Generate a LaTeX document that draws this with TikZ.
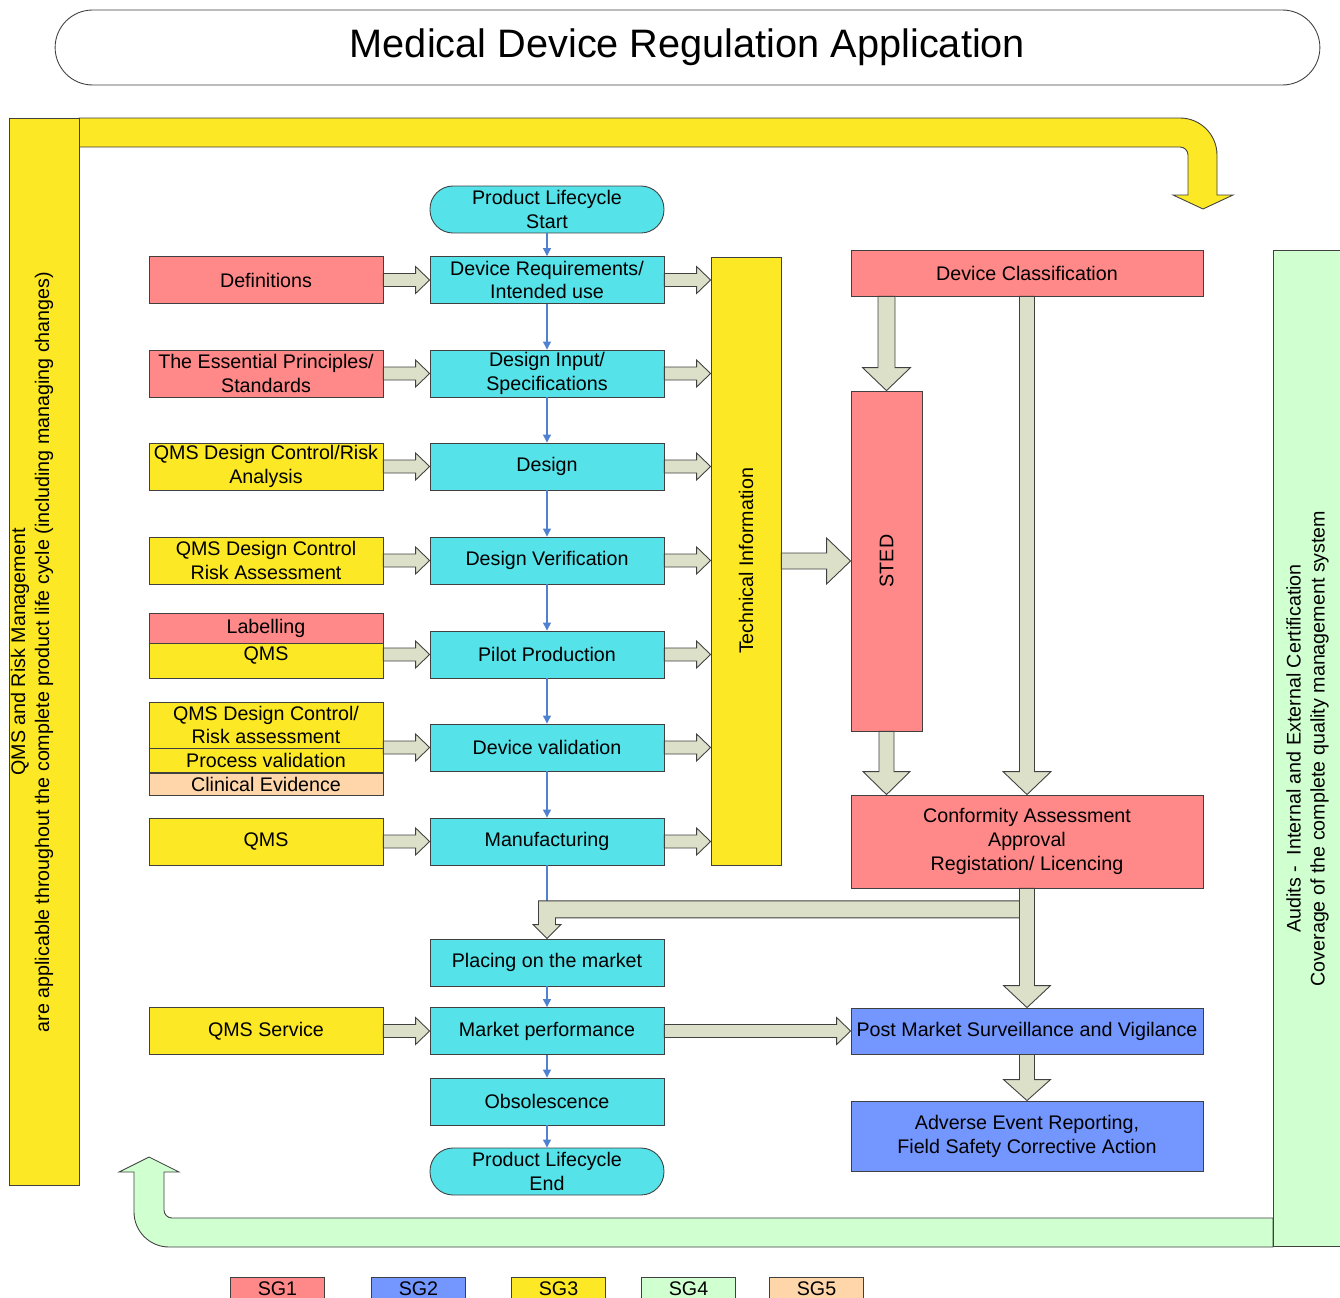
\documentclass[tikz,border=0pt]{standalone}
\usepackage{fontspec}
\setmainfont{Liberation Sans}
\usetikzlibrary{arrows.meta,positioning,calc}
\definecolor{sgred}{RGB}{255,136,136}
\definecolor{sgblue}{RGB}{115,150,255}
\definecolor{sgyellow}{RGB}{252,232,36}
\definecolor{sggreen}{RGB}{208,255,208}
\definecolor{sgpeach}{RGB}{255,213,170}
\definecolor{stepcyan}{RGB}{85,226,233}
\definecolor{blkgrey}{RGB}{220,224,201}
\definecolor{flowblue}{RGB}{79,129,208}
\newcommand{\boxfont}{\fontsize{11.2}{13.6}\selectfont}
% block arrows: start, tip, shaft half width, head half width, head length
\newcommand{\rblk}[5]{\draw[blk] ($(#1)+(0,-#3)$) -- ($(#2)+(-#5,-#3)$) -- ($(#2)+(-#5,-#4)$) -- (#2) -- ($(#2)+(-#5,#4)$) -- ($(#2)+(-#5,#3)$) -- ($(#1)+(0,#3)$) -- cycle;}
\newcommand{\dblk}[5]{\draw[blk] ($(#1)+(-#3,0)$) -- ($(#2)+(-#3,-#5)$) -- ($(#2)+(-#4,-#5)$) -- (#2) -- ($(#2)+(#4,-#5)$) -- ($(#2)+(#3,-#5)$) -- ($(#1)+(#3,0)$) -- cycle;}

\begin{document}
\begin{tikzpicture}[x=0.02cm, y=-0.02cm,
  plainbox/.style={draw=black!75, line width=0.5pt, inner sep=1pt, align=center, font=\boxfont, minimum width=4.68cm, minimum height=0.94cm},
  stepbox/.style={plainbox, fill=stepcyan},
  redbox/.style={plainbox, fill=sgred},
  yelbox/.style={plainbox, fill=sgyellow},
  bluebox/.style={plainbox, fill=sgblue, minimum width=7.04cm},
  pill/.style={stepbox, rounded corners=0.46cm},
  legend/.style={plainbox, minimum width=1.88cm, minimum height=0.48cm},
  flow/.style={draw=flowblue, line width=0.6pt, -{Triangle[width=4.5pt,length=4.5pt]}},
  blk/.style={draw=black!75, line width=0.5pt, fill=blkgrey}]
  \useasboundingbox (0,0) rectangle (1340,1298);
  \clip (0,0) rectangle (1340,1298);

  \node[plainbox, minimum width=25.3cm, minimum height=1.5cm, rounded corners=0.75cm, font=\fontsize{22.6}{26}\selectfont] (title) at (687.5,47.5) {Medical Device Regulation Application};

  % loop arrows round the lifecycle
  \draw[blk, fill=sgyellow] (79,118) -- (1180,118) .. controls (1200.4,118) and (1217,134.6) .. (1217,155) -- (1217,195) -- (1233,195) -- (1203,209) -- (1173,195) -- (1188,195) -- (1188,155) .. controls (1188,150.6) and (1184.4,147) .. (1180,147) -- (79,147) -- cycle;
  \draw[blk, fill=sggreen] (1273,1218) -- (172,1218) .. controls (167.6,1218) and (164,1214.4) .. (164,1210) -- (164,1172) -- (179,1172) -- (149,1157) -- (119,1172) -- (134,1172) -- (134,1212) .. controls (134,1231.3) and (149.7,1247) .. (169,1247) -- (1273,1247) -- cycle;
  \node[yelbox, minimum width=1.4cm, minimum height=21.36cm] (lbar) at (44,652) {};
  \node[rotate=90, font=\boxfont, align=center] (lbartxt) at (32,652) {QMS and Risk Management\\are applicable throughout the complete product life cycle (including managing changes)};
  \node[plainbox, fill=sggreen, rotate=90, minimum width=19.94cm, minimum height=1.38cm] (rbar) at (1307.5,748.5) {Audits -\ \ Internal and External Certification\\Coverage of the complete quality management system};

  % lifecycle
  \node[pill] (start) at (547,209.5) {Product Lifecycle\\Start};
  \node[stepbox] (devreq) at (547,280) {Device Requirements/\\Intended use};
  \node[stepbox] (din) at (547,373.5) {Design Input/\\Specifications};
  \node[stepbox] (design) at (547,466.5) {Design};
  \node[stepbox] (dver) at (547,560.5) {Design Verification};
  \node[stepbox] (pilot) at (547,654.5) {Pilot Production};
  \node[stepbox] (dval) at (547,747.5) {Device validation};
  \node[stepbox] (manuf) at (547,841.5) {Manufacturing};
  \node[stepbox] (placing) at (547,962.5) {Placing on the market};
  \node[stepbox] (market) at (547,1031) {Market performance};
  \node[stepbox] (obs) at (547,1101.5) {Obsolescence};
  \node[pill] (lcend) at (547,1171.5) {Product Lifecycle\\End};

  % inputs
  \node[redbox] (defs) at (266,280) {Definitions};
  \node[redbox] (essp) at (266,373.5) {The Essential Principles/\\Standards};
  \node[yelbox] (qmsrisk) at (266,466.5) {QMS Design Control/Risk\\Analysis};
  \node[yelbox] (qmsassess) at (266,560.5) {QMS Design Control\\Risk Assessment};
  \node[redbox, minimum height=0.6cm] (lab) at (266,628) {Labelling};
  \node[yelbox, below=0pt of lab, minimum height=0pt, inner ysep=0pt, text height=0.34cm, text depth=0.36cm] (labqms) {QMS};
  \node[yelbox, minimum height=0.92cm, inner ysep=0pt] (qmsdc) at (266,725) {QMS Design Control/\\Risk assessment};
  \node[yelbox, below=0pt of qmsdc, minimum height=0.48cm, inner ysep=0pt] (procval) {Process validation};
  \node[plainbox, fill=sgpeach, below=0pt of procval, minimum height=0.44cm, inner ysep=0pt] (clin) {Clinical Evidence};
  \node[yelbox] (qms) at (266,841.5) {QMS};
  \node[yelbox] (qmsserv) at (266,1031) {QMS Service};

  % regulatory side (rotated nodes: north = left, south = right, east = top, west = bottom)
  \node[yelbox, rotate=90, minimum width=12.16cm, minimum height=1.4cm] (tech) at (746,561) {Technical Information};
  \node[redbox, minimum width=7.04cm, minimum height=0.92cm] (devclass) at (1027,273) {Device Classification};
  \node[redbox, rotate=90, minimum width=6.8cm, minimum height=1.42cm] (sted) at (886.5,561) {STED};
  \node[redbox, minimum width=7.04cm, minimum height=1.86cm] (conf) at (1027,841.5) {Conformity Assessment\\Approval\\Registation/ Licencing};
  \node[bluebox, minimum height=0.92cm] (pms) at (1027,1031) {Post Market Surveillance and Vigilance};
  \node[bluebox, minimum height=1.4cm] (adverse) at (1027,1136) {Adverse Event Reporting,\\Field Safety Corrective Action};

  % legend
  \foreach \n/\c/\x in {1/sgred/277.5, 2/sgblue/418.5, 3/sgyellow/558.5, 4/sggreen/688.5, 5/sgpeach/816.5}
    \node[legend, fill=\c] (sg\n) at (\x,1289) {SG\n};

  % connectors
  \foreach \a/\b in {start/devreq, devreq/din, din/design, design/dver, dver/pilot, pilot/dval, dval/manuf, manuf/placing, placing/market, market/obs, obs/lcend}
    \draw[flow] (\a) -- (\b);
  \foreach \a/\b in {defs/devreq, essp/din, qmsrisk/design, qmsassess/dver, labqms/pilot, qmsdc/dval, qms/manuf, qmsserv/market}
    {\rblk{\a.east |- \b.west}{\b.west}{6.5}{13.5}{14}}
  \foreach \a in {devreq, din, design, dver, pilot, dval, manuf}
    {\rblk{\a.east}{tech.north |- \a.east}{6.5}{13.5}{14}}
  \rblk{tech.south}{sted.north}{8}{23}{24}
  \rblk{market.east}{pms.west}{6.5}{13.5}{14}
  \dblk{sted.east |- devclass.south}{sted.east}{8.5}{24}{23}
  \dblk{sted.west}{sted.west |- conf.north}{7.5}{23.5}{23}
  \dblk{devclass.south}{conf.north}{7.5}{24}{23}
  \coordinate (split) at ($(conf.south)+(0,21)$);
  \coordinate (bend) at (placing.north |- split);
  \draw[blk] ($(split)+(0,-8.5)$) -- ($(bend)+(-8.5,-8.5)$) -- ($(placing.north)+(-8.5,-14)$) -- ($(placing.north)+(-14,-14)$) -- (placing.north) -- ($(placing.north)+(14,-14)$) -- ($(placing.north)+(8.5,-14)$) -- ($(bend)+(8.5,8.5)$) -- ($(split)+(0,8.5)$) -- cycle;
  \dblk{conf.south}{pms.north}{7.5}{23.5}{22}
  \dblk{pms.south}{adverse.north}{7.5}{23.5}{21}
\end{tikzpicture}
\end{document}
